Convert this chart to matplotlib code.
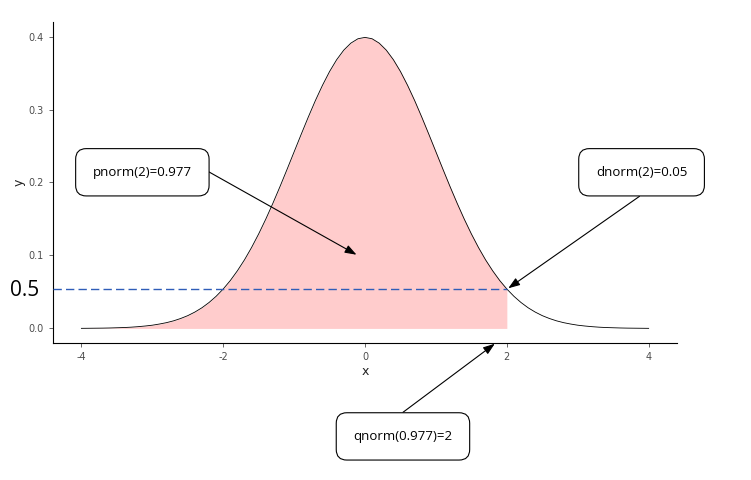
import numpy as np
import matplotlib.pyplot as plt

x_vals = [-4.0, -3.9, -3.8, -3.7, -3.6, -3.5, -3.4, -3.3, -3.2, -3.1,
          -3.0, -2.9, -2.8, -2.7, -2.6, -2.5, -2.4, -2.3, -2.2, -2.1,
          -2.0, -1.9, -1.8, -1.7, -1.6, -1.5, -1.4, -1.3, -1.2, -1.1,
          -1.0, -0.9, -0.8, -0.7, -0.6, -0.5, -0.4, -0.3, -0.2, -0.1,
          0.0, 0.1, 0.2, 0.3, 0.4, 0.5, 0.6, 0.7, 0.8, 0.9,
          1.0, 1.1, 1.2, 1.3, 1.4, 1.5, 1.6, 1.7, 1.8, 1.9,
          2.0, 2.1, 2.2, 2.3, 2.4, 2.5, 2.6, 2.7, 2.8, 2.9,
          3.0, 3.1, 3.2, 3.3, 3.4, 3.5, 3.6, 3.7, 3.8, 3.9, 4.0]
y_vals = [0.0001, 0.0002, 0.0003, 0.0004, 0.0006, 0.0009, 0.0012, 0.0017, 0.0024, 0.0033,
          0.0044, 0.0060, 0.0079, 0.0104, 0.0136, 0.0175, 0.0224, 0.0283, 0.0355, 0.0440,
          0.0540, 0.0656, 0.0790, 0.0940, 0.1109, 0.1295, 0.1497, 0.1714, 0.1942, 0.2179,
          0.2420, 0.2661, 0.2897, 0.3123, 0.3332, 0.3521, 0.3683, 0.3814, 0.3910, 0.3970,
          0.3989, 0.3970, 0.3910, 0.3814, 0.3683, 0.3521, 0.3332, 0.3123, 0.2897, 0.2661,
          0.2420, 0.2179, 0.1942, 0.1714, 0.1497, 0.1295, 0.1109, 0.0940, 0.0790, 0.0656,
          0.0540, 0.0440, 0.0355, 0.0283, 0.0224, 0.0175, 0.0136, 0.0104, 0.0079, 0.0060,
          0.0044, 0.0033, 0.0024, 0.0017, 0.0012, 0.0009, 0.0006, 0.0004, 0.0003, 0.0002, 0.0001]

q_cut = 2.0
d_at_cut = 0.054
x_ticks = [-4, -2, 0, 2, 4]
y_ticks = [0.0, 0.1, 0.2, 0.3, 0.4]

# Beschriftungen: Text, Boxmitte, Pfeilstart, Pfeilziel (Datenkoordinaten)
labels = ["pnorm(2)=0.977", "dnorm(2)=0.05", "qnorm(0.977)=2"]
box_pos = [(-3.14, 0.214), (3.90, 0.214), (0.535, -0.148)]
arrow_from = [(-2.21, 0.215), (3.87, 0.181), (0.535, -0.115)]
arrow_to = [(-0.12, 0.101), (2.02, 0.055), (1.83, -0.021)]

x = np.array(x_vals)
y = np.array(y_vals)

fig = plt.figure(figsize=(7.51, 4.8), dpi=100)
ax = fig.add_axes([0.0706, 0.2854, 0.8309, 0.6688])

mask = x <= q_cut
ax.fill_between(x[mask], 0, y[mask], color='#FFCCCC', linewidth=0, zorder=1)
ax.plot(x, y, color='black', linewidth=0.6, zorder=2)
ax.plot([-4.4, q_cut], [d_at_cut, d_at_cut], color='#2F5DB8',
        linestyle=(0, (6, 3)), linewidth=1.0, zorder=3)

ax.set_xlim(-4.4, 4.4)
ax.set_ylim(-0.02, 0.42)
ax.set_xticks(x_ticks)
ax.set_yticks(y_ticks)
ax.set_xticklabels([str(t) for t in x_ticks])
ax.set_yticklabels(['%.1f' % t for t in y_ticks])
ax.tick_params(labelsize=7, colors='#4D4D4D', length=3, width=0.6, labelcolor='#4D4D4D')
ax.set_xlabel('x', fontsize=9, color='#222222', labelpad=2)
ax.set_ylabel('y', fontsize=9, color='#222222', labelpad=2)
for s in ['top', 'right']:
    ax.spines[s].set_visible(False)
for s in ['left', 'bottom']:
    ax.spines[s].set_linewidth(0.8)

fig.text(10 / 751, 1 - 291 / 480, '0.5', fontsize=15, va='center', ha='left',
         family='Open Sans')

for txt, bp, af, at in zip(labels, box_pos, arrow_from, arrow_to):
    ax.annotate('', xy=at, xytext=af, annotation_clip=False,
                arrowprops=dict(arrowstyle='-|>,head_length=0.7,head_width=0.25',
                                color='black', linewidth=0.8, shrinkA=0, shrinkB=0))
    ax.text(bp[0], bp[1], txt, fontsize=9.5, ha='center', va='center',
            family='Open Sans', clip_on=False, zorder=5,
            bbox=dict(boxstyle='round,pad=1.3,rounding_size=0.8',
                      facecolor='white', edgecolor='black', linewidth=0.8))

plt.savefig('out.png', dpi=100)
